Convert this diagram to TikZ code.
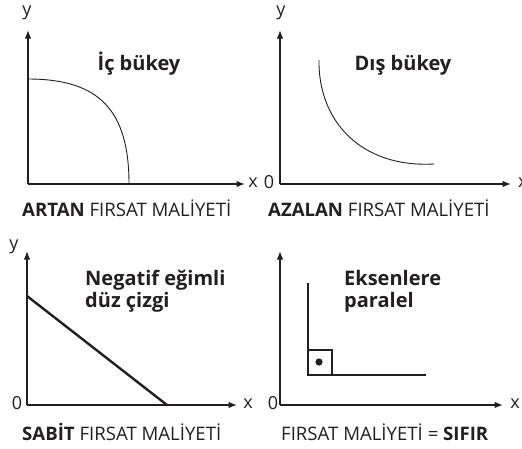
\documentclass[tikz,border=0pt]{standalone}
\usepackage{fontspec}
\setmainfont{Open Sans}
\usetikzlibrary{arrows.meta}
\definecolor{ink}{HTML}{231F20}
\begin{document}
\begin{tikzpicture}[x=1pt,y=-1pt,
  axis/.style={draw=ink,line width=1.3pt,-{Latex[length=8.5pt,width=6.5pt]}},
  curveline/.style={draw=ink,line width=0.9pt},
  thickline/.style={draw=ink,line width=2.4pt},
  lbl/.style={text=ink,font=\fontsize{18}{18}\selectfont,inner sep=0pt},
  ttl/.style={text=ink,font=\fontsize{20}{22}\selectfont\bfseries,inner sep=0pt,anchor=base},
  ttlb/.style={text=ink,font=\fontsize{20}{22}\selectfont\bfseries,inner sep=0pt,anchor=base west},
  captext/.style={text=ink,font=\fontsize{18.6}{18}\selectfont,inner sep=0pt,anchor=base west}]
\useasboundingbox (0,0) rectangle (522,448);
% Panel 1
\coordinate (o1) at (28,184); \coordinate (y1) at (28,30); \coordinate (x1) at (245,184);
\draw[axis] (o1) -- (y1);
\draw[axis] (o1) -- (x1);
\node[lbl] (ly1) at (27,13) {y};
\node[lbl] (lx1) at (253,183) {x};
\coordinate (c1a) at (28,79); \coordinate (c1b) at (129,184);
\draw[curveline] (c1a) .. controls (99,79) and (129,110) .. (c1b);
\node[ttl] (t1) at (139,70) {İç bükey};
\node[captext] (k1) at (22,216) {{\bfseries ARTAN} FIRSAT MALİYETİ};
% Panel 2
\coordinate (o2) at (280,184); \coordinate (y2) at (280,30); \coordinate (x2) at (511,184);
\draw[axis] (o2) -- (y2);
\draw[axis] (o2) -- (x2);
\node[lbl] (ly2) at (281,13) {y};
\node[lbl] (l02) at (269,182) {0};
\node[lbl,anchor=west] (lx2) at (518,183) {x};
\coordinate (c2a) at (319,60); \coordinate (c2b) at (434,164);
\draw[curveline] (c2a) .. controls (318,120) and (360,168) .. (c2b);
\node[ttl] (t2) at (403,70) {Dış bükey};
\node[captext] (k2) at (268,216) {{\bfseries AZALAN} FIRSAT MALİYETİ};
% Panel 3
\coordinate (o3) at (27,405); \coordinate (y3) at (27,251); \coordinate (x3) at (237,405);
\draw[axis] (o3) -- (y3);
\draw[axis] (o3) -- (x3);
\node[lbl] (ly3) at (14,247) {y};
\node[lbl] (l03) at (17,403) {0};
\node[lbl] (lx3) at (248,404) {x};
\coordinate (c3a) at (27,296); \coordinate (c3b) at (167,405);
\draw[thickline] (c3a) -- (c3b);
\node[ttlb] (t3a) at (85,285) {Negatif eğimli};
\node[ttlb] (t3b) at (85,307) {düz çizgi};
\node[captext] (k3) at (22,440) {{\bfseries SABİT} FIRSAT MALİYETİ};
% Panel 4
\coordinate (o4) at (280,405); \coordinate (y4) at (280,251); \coordinate (x4) at (503,405);
\draw[axis] (o4) -- (y4);
\draw[axis] (o4) -- (x4);
\node[lbl] (l04) at (273,403) {0};
\node[lbl] (lx4) at (515,404) {x};
\coordinate (c4a) at (308,283); \coordinate (c4c) at (308,375); \coordinate (c4b) at (426,375);
\draw[thickline] (c4a) -- (c4c) -- (c4b);
\draw[draw=ink,line width=1.6pt] (308,350) rectangle (332,375);
\fill[ink] (319,362) circle (3.6pt);
\node[ttlb] (t4a) at (344,285) {Eksenlere};
\node[ttlb] (t4b) at (344,307) {paralel};
\node[captext] (k4) at (281,440) {FIRSAT MALİYETİ = {\bfseries SIFIR}};
\end{tikzpicture}
\end{document}
